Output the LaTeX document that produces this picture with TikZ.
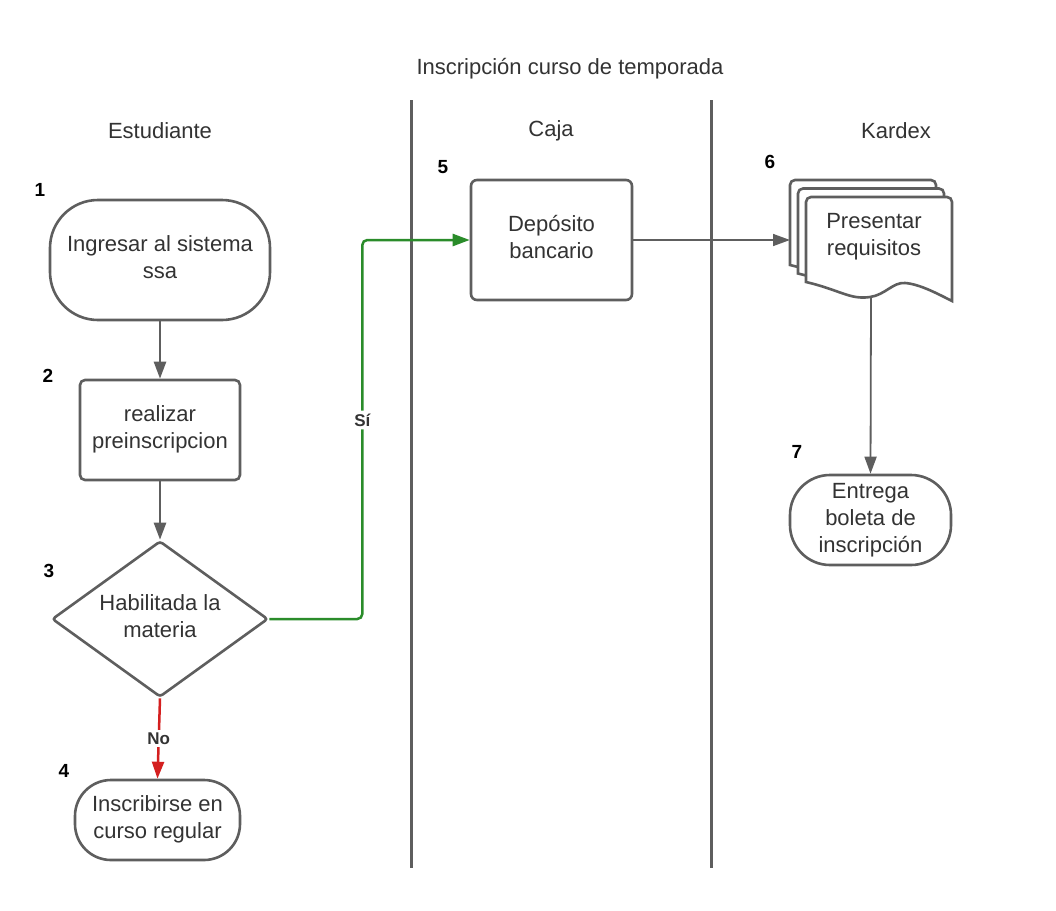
\documentclass[tikz,border=0pt]{standalone}
\usepackage{fontspec}
\setmainfont{Liberation Sans}
\usetikzlibrary{arrows.meta,shapes.geometric,calc}
\definecolor{lg}{HTML}{5E5E5E}
\definecolor{tx}{HTML}{333333}
\definecolor{gr}{HTML}{2A8C2A}
\definecolor{rd}{HTML}{D41F1F}
\newcommand\mydocshape[1]{\draw[docst,shift={#1}] (806,282) [rounded corners=5pt] -- (806,197) -- (952,197) [sharp corners] -- (952,301) .. controls (940,295) and (920,284) .. (905,283) .. controls (893,282) and (885,295) .. (870,297) .. controls (850,300) and (840,290) .. (806,282) -- cycle;}
\newcommand\uplines[2]{\raisebox{#1}{\begin{tabular}{@{}c@{}}#2\end{tabular}}}
\begin{document}
\begin{tikzpicture}[x=1pt,y=-1pt,
  box/.style={draw=lg, line width=2.6pt, fill=white, text=tx, align=center,
    font=\fontsize{22}{27}\selectfont, inner sep=0pt},
  docst/.style={draw=lg, line width=2.6pt, fill=white},
  hdr/.style={text=tx, font=\fontsize{22}{27}\selectfont, inner sep=0pt},
  num/.style={font=\bfseries\fontsize{19}{19}\selectfont, text=black, inner sep=0pt},
  lab/.style={font=\bfseries\fontsize{17}{17}\selectfont, text=tx, fill=white, inner sep=3pt},
  flow/.style={draw=lg, line width=2.5pt, -{Triangle[length=17pt,width=12pt]}},
  lane/.style={draw=lg, line width=3pt}
]
\useasboundingbox (0,0) rectangle (1056,910);
\fill[white] (0,0) rectangle (1056,910);

% titles
\node[hdr] (title) at (570,69) {Inscripción curso de temporada};
\node[hdr] (h1) at (160,131) {Estudiante};
\node[hdr] (h2) at (551,131) {Caja};
\node[hdr] (h3) at (896,131) {Kardex};

% lanes
\draw[lane] (411,100) -- (411,868);
\draw[lane] (711,100) -- (711,868);

% nodes
\node[box, rounded corners=48pt, minimum width=220pt, minimum height=120pt] (n1) at (160,260) {\uplines{3.5pt}{Ingresar al sistema\\ssa}};
\node[box, rounded corners=5pt, minimum width=160pt, minimum height=100pt] (n2) at (160,430) {\uplines{1pt}{realizar\\preinscripcion}};
\node[box, diamond, aspect=1.385, rounded corners=3pt, minimum width=216pt, minimum height=156pt] (n3) at (160,619) {\uplines{2.5pt}{Habilitada la\\materia}};
\node[box, rounded corners=36pt, minimum width=165pt, minimum height=80pt] (n4) at (157.5,820) {\uplines{1pt}{Inscribirse en\\curso regular}};
\node[box, rounded corners=6pt, minimum width=161pt, minimum height=120pt] (n5) at (551.5,240) {\uplines{3pt}{Depósito\\bancario}};

% multi-document
\mydocshape{(-16,-17)}
\mydocshape{(-8,-8.5)}
\mydocshape{(0,0)}
\node[hdr, align=center] (n6) at (874,237) {Presentar\\requisitos};
\coordinate (n6in) at (790,240);
\coordinate (n6out) at (871,297);

\node[box, rounded corners=40pt, minimum width=161pt, minimum height=90pt] (n7) at (870.5,520) {Entrega\\boleta de\\inscripción};

% numbers
\node[num] (l1) at (40,190) {1};
\node[num] (l2) at (48,376) {2};
\node[num] (l3) at (49,571) {3};
\node[num] (l4) at (64,771) {4};
\node[num] (l5) at (443,167) {5};
\node[num] (l6) at (770,162) {6};
\node[num] (l7) at (797,452) {7};

% connectors
\draw[flow] (n1.south) -- (n2.north);
\draw[flow] (n2.south) -- (n3.north);
\draw[flow, draw=gr, -{Triangle[length=17pt,width=12pt,fill=gr]}, rounded corners=5pt]
  (n3.east) -- ++(93,0) |- node[lab, pos=0.2625] {Sí} (n5.west);
\draw[flow, draw=rd] (n3.south) -- node[lab] {No} (n4.north);
\draw[flow, line width=1.5pt, -{Triangle[length=17pt,width=12pt,fill=lg]}] (n5.east) -- (n6in);
\draw[flow, line width=1.8pt] (n6out) -- (n7.north);
\end{tikzpicture}
\end{document}
